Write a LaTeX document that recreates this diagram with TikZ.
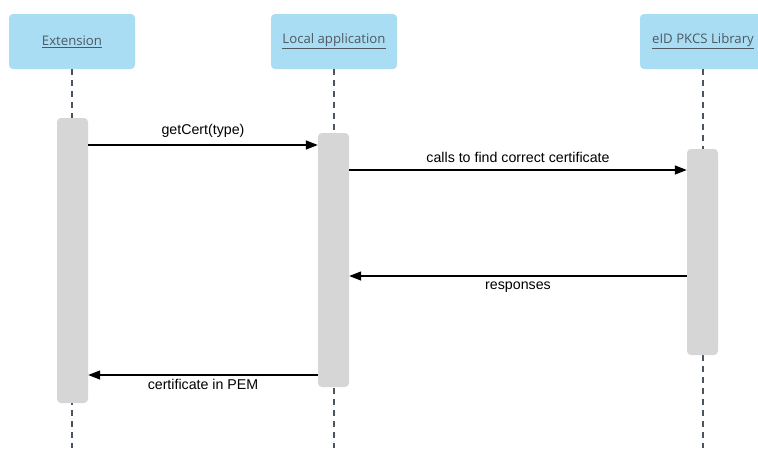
\documentclass[tikz,border=0pt]{standalone}
\usepackage{fontspec}
\setmainfont{Liberation Sans}
\newfontfamily\headfont{Open Sans}
\usetikzlibrary{arrows.meta}
\definecolor{headfill}{HTML}{A9DDF3}
\definecolor{barfill}{HTML}{D6D6D6}
\definecolor{lifecol}{HTML}{4A5560}
\definecolor{headtext}{HTML}{4F5962}
\begin{document}
\begin{tikzpicture}[x=1pt,y=-1pt,
  headbox/.style={fill=headfill,rounded corners=4pt,minimum width=126pt,minimum height=55pt,
    inner sep=0pt,font=\headfont\fontsize{13.2}{15}\selectfont,text=headtext},
  actbar/.style={fill=barfill,rounded corners=4pt,minimum width=31pt,inner sep=0pt},
  lifeline/.style={draw=lifecol,line width=1.1pt,dash pattern=on 6pt off 5pt},
  msg/.style={draw=black,line width=1.3pt,-{Triangle[length=12pt,width=9pt]}},
  msglabel/.style={font=\fontsize{14.2}{16}\selectfont,inner sep=0pt}]
\useasboundingbox (0,0) rectangle (758,448);
\clip (0,0) rectangle (758,448);
\fill[white] (0,0) rectangle (758,448);

% participants
\node[headbox] (ext) at (72,41.5) {\underline{Extension}};
\node[headbox] (loc) at (334,41.5) {\underline{Local application}};
\node[headbox] (lib) at (703,41.5) {\underline{eID PKCS Library}};

% lifeline ends
\coordinate (extend) at (72,448);
\coordinate (locend) at (334,448);
\coordinate (libend) at (703,448);
\draw[lifeline] (ext.south) -- (extend);
\draw[lifeline] (loc.south) -- (locend);
\draw[lifeline] (lib.south) -- (libend);

% activation bars
\node[actbar,minimum height=285pt] (extbar) at (72.5,260.5) {};
\node[actbar,minimum height=254pt] (locbar) at (333.5,260) {};
\node[actbar,minimum height=206pt] (libbar) at (702.5,252) {};

% messages
\draw[msg] (extbar.east |- 0,145) -- node[msglabel,above=7pt] {getCert(type)} (locbar.west |- 0,145);
\draw[msg] (locbar.east |- 0,170) -- node[msglabel,above=7pt] {calls to find correct certificate} (libbar.west |- 0,170);
\draw[msg] (libbar.west |- 0,276) -- node[msglabel,below=5pt] {responses} (locbar.east |- 0,276);
\draw[msg] (locbar.west |- 0,375) -- node[msglabel,below=4pt] {certificate in PEM} (extbar.east |- 0,375);
\end{tikzpicture}
\end{document}
